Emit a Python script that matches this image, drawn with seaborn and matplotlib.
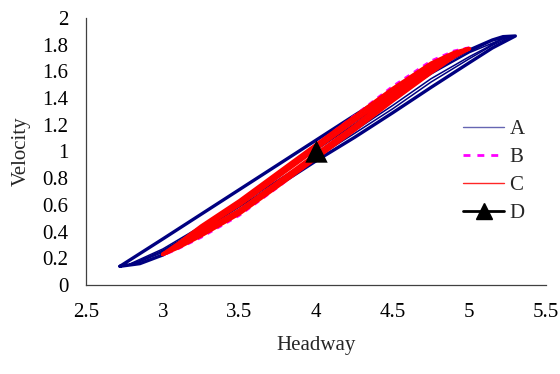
import pandas as pd
import matplotlib
matplotlib.use('Agg')
import matplotlib.pyplot as plt
from matplotlib.lines import Line2D
from matplotlib.ticker import MultipleLocator, FuncFormatter
import seaborn as sns

# ============================================================
# Data (headway, velocity)
# ============================================================
# Series A -- navy loops: the outer loop, then two inner ones
a1_x = [2.72, 3.0, 3.25, 3.5, 3.75, 4.0, 4.25, 4.5, 4.75, 5.0, 5.15, 5.22, 5.30,
        5.15, 5.0, 4.75, 4.5, 4.25, 4.0, 3.75, 3.5, 3.25, 3.0, 2.85, 2.72]
a1_y = [0.14, 0.345, 0.53, 0.715, 0.90, 1.085, 1.27, 1.45, 1.62, 1.76, 1.835, 1.86, 1.865,
        1.775, 1.665, 1.48, 1.29, 1.105, 0.93, 0.745, 0.56, 0.385, 0.225, 0.16, 0.14]
a2_x = [2.78, 3.0, 3.25, 3.5, 3.75, 4.0, 4.25, 4.5, 4.75, 5.0, 5.15, 5.26,
        5.15, 5.0, 4.75, 4.5, 4.25, 4.0, 3.75, 3.5, 3.25, 3.0, 2.85, 2.78]
a2_y = [0.155, 0.27, 0.44, 0.63, 0.825, 1.025, 1.22, 1.41, 1.59, 1.745, 1.83, 1.855,
        1.795, 1.695, 1.52, 1.32, 1.135, 0.955, 0.77, 0.585, 0.405, 0.245, 0.175, 0.155]
a3_x = [2.82, 3.0, 3.25, 3.5, 3.75, 4.0, 4.25, 4.5, 4.75, 5.0, 5.22,
        5.1, 5.0, 4.75, 4.5, 4.25, 4.0, 3.75, 3.5, 3.25, 3.0, 2.82]
a3_y = [0.165, 0.26, 0.425, 0.615, 0.81, 1.01, 1.205, 1.40, 1.58, 1.74, 1.845,
        1.77, 1.71, 1.545, 1.345, 1.155, 0.97, 0.785, 0.60, 0.42, 0.255, 0.165]

# Series B -- magenta dashed loop
b1_x = [3.0, 3.25, 3.5, 3.75, 4.0, 4.25, 4.5, 4.75, 4.9, 5.0,
        4.9, 4.75, 4.5, 4.25, 4.0, 3.75, 3.5, 3.25, 3.1, 3.0]
b1_y = [0.22, 0.43, 0.62, 0.83, 1.05, 1.27, 1.49, 1.68, 1.755, 1.78,
        1.72, 1.60, 1.39, 1.17, 0.95, 0.73, 0.52, 0.355, 0.27, 0.22]

# Series C -- red loops
c1_x = [3.0, 3.1, 3.25, 3.5, 3.75, 4.0, 4.25, 4.5, 4.75, 4.9, 5.0,
        4.9, 4.75, 4.5, 4.25, 4.0, 3.75, 3.5, 3.25, 3.1, 3.0]
c1_y = [0.23, 0.31, 0.44, 0.63, 0.84, 1.05, 1.26, 1.47, 1.66, 1.74, 1.77,
        1.71, 1.59, 1.38, 1.16, 0.95, 0.74, 0.535, 0.37, 0.28, 0.23]
c2_x = [3.02, 3.25, 3.5, 3.75, 4.0, 4.25, 4.5, 4.75, 4.98,
        4.75, 4.5, 4.25, 4.0, 3.75, 3.5, 3.25, 3.02]
c2_y = [0.24, 0.42, 0.60, 0.81, 1.02, 1.23, 1.44, 1.635, 1.765,
        1.61, 1.41, 1.19, 0.98, 0.77, 0.56, 0.39, 0.24]

# Series D -- single point
d_x = [4.0]
d_y = [1.0]

series_names = ['A', 'B', 'C', 'D']


def loops_frame(xs_list, ys_list):
    parts = []
    for k, (xs, ys) in enumerate(zip(xs_list, ys_list)):
        parts.append(pd.DataFrame({'Headway': xs, 'Velocity': ys, 'loop': k}))
    return pd.concat(parts, ignore_index=True)


df_a_outer = loops_frame([a1_x], [a1_y])
df_a_inner = loops_frame([a2_x, a3_x], [a2_y, a3_y])
df_b = loops_frame([b1_x], [b1_y])
df_c = loops_frame([c1_x, c2_x], [c1_y, c2_y])
df_d = pd.DataFrame({'Headway': d_x, 'Velocity': d_y})

# ============================================================
# Plot
# ============================================================
sns.set_style('white')
plt.rcParams['font.family'] = ['Liberation Serif', 'DejaVu Serif']
plt.rcParams['font.size'] = 15

fig = plt.figure(figsize=(5.6, 3.74), dpi=100)
ax = fig.add_axes([0.154, 0.238, 0.821, 0.714])

navy, magenta, red = '#000080', '#ff00ff', '#ff0000'
line_kw = dict(x='Headway', y='Velocity', units='loop', estimator=None,
               sort=False, legend=False, ax=ax)

sns.lineplot(data=df_a_outer, color=navy, linewidth=2.4, **line_kw)
sns.lineplot(data=df_a_inner, color=navy, linewidth=1.1, **line_kw)
sns.lineplot(data=df_b, color=magenta, linewidth=1.6,
             linestyle=(0, (2.5, 2.5)), **line_kw)
sns.lineplot(data=df_c, color=red, linewidth=2.8, **line_kw)
sns.scatterplot(data=df_d, x='Headway', y='Velocity', marker='^', s=260,
                color='black', edgecolor='black', linewidth=0, legend=False,
                ax=ax, zorder=5)

ax.set_xlim(2.5, 5.5)
ax.set_ylim(0, 2)
ax.xaxis.set_major_locator(MultipleLocator(0.5))
ax.yaxis.set_major_locator(MultipleLocator(0.2))
fmt = FuncFormatter(lambda v, _: f'{v:g}')
ax.xaxis.set_major_formatter(fmt)
ax.yaxis.set_major_formatter(fmt)

for side in ['top', 'right']:
    ax.spines[side].set_visible(False)
for side in ['left', 'bottom']:
    ax.spines[side].set_color('#404040')
    ax.spines[side].set_linewidth(0.9)

ax.tick_params(axis='both', direction='in', length=4, width=0.9,
               color='#404040', labelsize=15, labelcolor='black')
ax.tick_params(axis='x', pad=13)
ax.tick_params(axis='y', pad=13)

ax.set_xlabel('Headway', fontsize=15, labelpad=10)
ax.set_ylabel('Velocity', fontsize=15, labelpad=8)

handles = [
    Line2D([], [], color=navy, linewidth=1.0, alpha=0.6),
    Line2D([], [], color=magenta, linewidth=2.0, linestyle=(0, (2.5, 2.5))),
    Line2D([], [], color=red, linewidth=1.0, alpha=0.85),
    Line2D([], [], color='black', linewidth=2.0, marker='^', markersize=11),
]
ax.legend(handles, series_names, loc='center left', bbox_to_anchor=(0.778, 0.425),
          frameon=False, fontsize=15, handlelength=2.0, handletextpad=0.25,
          labelspacing=0.4)

fig.savefig('out.png', dpi=100)
plt.close(fig)
